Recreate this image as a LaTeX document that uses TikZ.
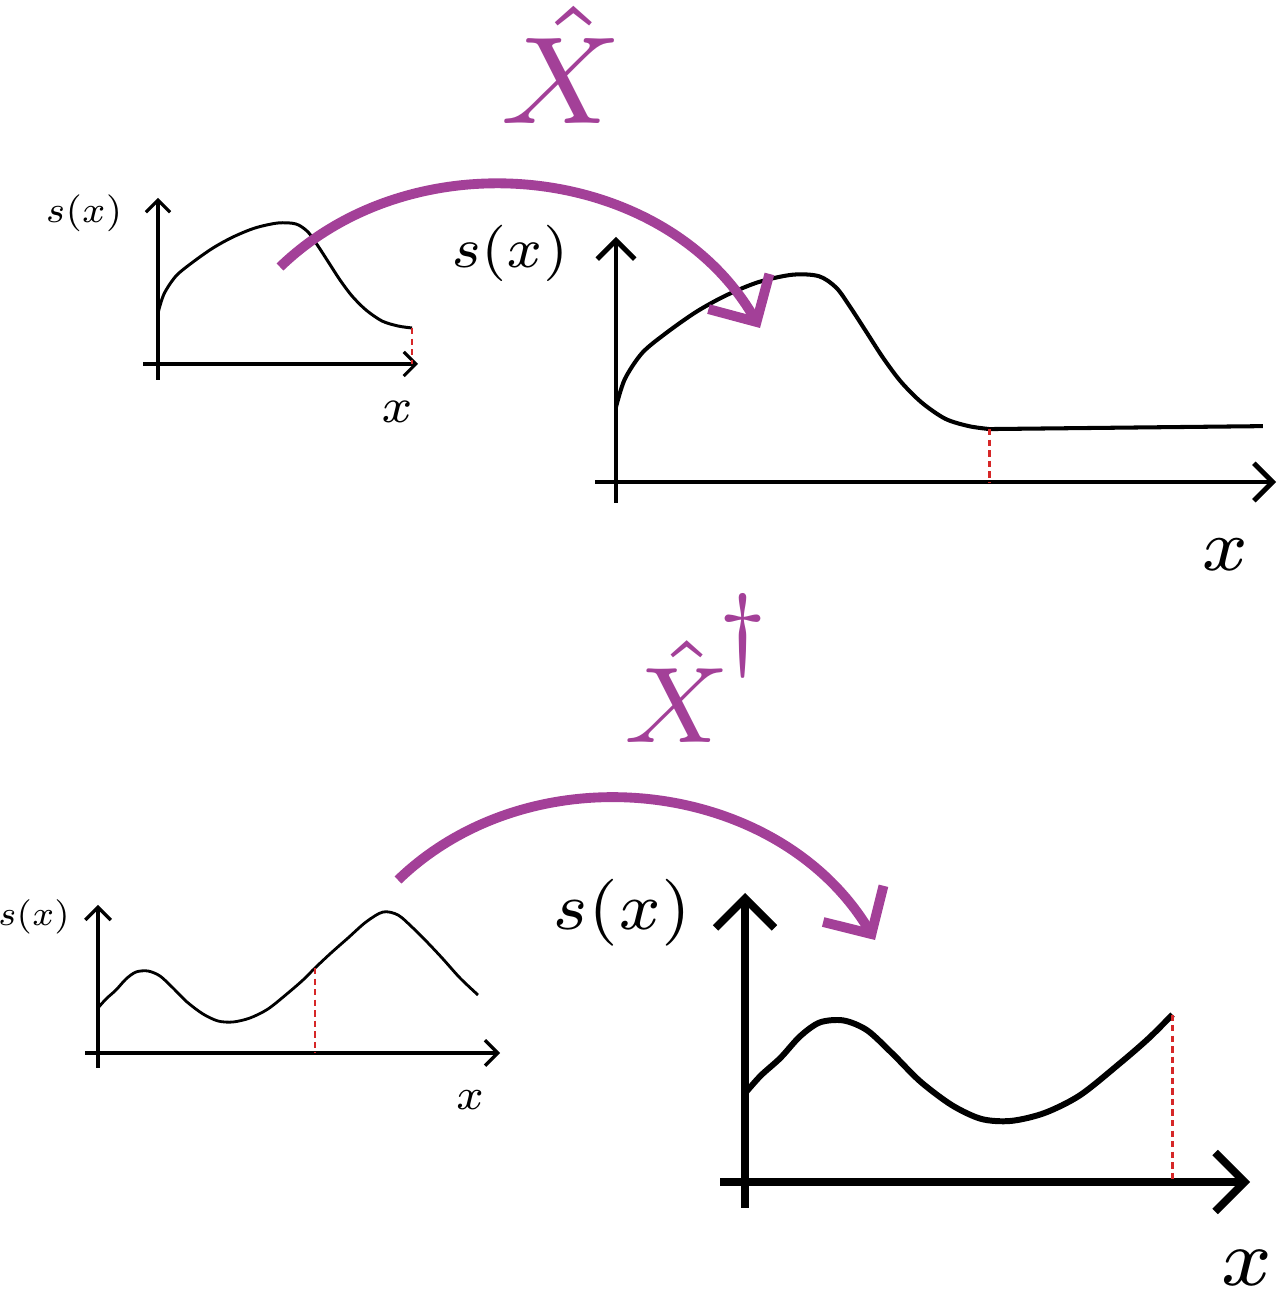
\RequirePackage{fix-cm}
\documentclass[tikz,border=0pt]{standalone}
\usepackage{amsmath}
\usepackage{xcolor}
\usetikzlibrary{arrows.meta}

\definecolor{mapcol}{RGB}{163,64,152}
\definecolor{cutcol}{RGB}{214,39,40}

\begin{document}
\begin{tikzpicture}[
  x=0.01cm, y=0.01cm,
  axis/.style={line width=#1, -{Straight Barb[length=0pt 3.8, width=0pt 7.6]}},
  curve/.style={line width=#1, line join=round},
  cut/.style={cutcol, line width=#1, dash pattern=on 1.8pt off 1.2pt},
  mapto/.style={mapcol, line width=2.8pt, -{Straight Barb[length=10pt, width=20pt]}},
  lbl/.style={inner sep=0pt, font=\fontsize{7}{8}\selectfont, scale=#1, transform shape}
]
  \useasboundingbox (0,0) rectangle (1279,1299);

  % top row: small signal
  \begin{scope}[shift={(158,935)}]
    \draw[axis=0.9pt] (-15,0) -- (260,0);
    \draw[axis=0.9pt] (0,-16) -- (0,166);
    \draw[curve=0.85pt] plot[smooth] coordinates {(0,51) (6,70) (18,88) (35,102) (55,116) (75,127) (97,136) (120,141) (138,140) (150,132) (160,118) (171,101) (182,84) (194,68) (208,54) (224,43) (240,38) (254,36)};
    \draw[cut=0.6pt] (254,36) -- (254,0);
  \end{scope}
  \node[lbl=1.5] (syA) at (84,1086) {$s(x)$};
  \node[lbl=2.0] (sxA) at (397,887) {$x$};

  % top row: stretched signal
  \begin{scope}[shift={(616,817)}]
    \draw[axis=1.4pt] (-21,0) -- (660,0);
    \draw[axis=1.4pt] (0,-21) -- (0,245);
    \begin{scope}[scale=1.47]
      \draw[curve=1.15pt] plot[smooth] coordinates {(0,51) (6,70) (18,88) (35,102) (55,116) (75,127) (97,136) (120,141) (138,140) (150,132) (160,118) (171,101) (182,84) (194,68) (208,54) (224,43) (240,38) (254,36)} -- (440,38);
      \draw[cut=0.7pt] (254,36) -- (254,0);
    \end{scope}
  \end{scope}
  \node[lbl=2.29] (syB) at (510,1046) {$s(x)$};
  \node[lbl=2.98] (sxB) at (1225,744) {$x$};

  % forward map
  \node[lbl=5.05, text=mapcol, anchor=base] (fwd) at (562,1175) {$\hat{X}$};
  \coordinate (fwdA) at (280,1032);
  \coordinate (fwdB) at (760,971);
  \draw[mapto] (fwdA) to[out=44, in=120] (fwdB);

  % bottom row: small signal
  \begin{scope}[shift={(98,246)}]
    \draw[axis=0.95pt] (-13,0) -- (402,0);
    \draw[axis=0.95pt] (0,-15) -- (0,148);
    \draw[curve=0.8pt] plot[smooth] coordinates {(0,45) (8,54) (18,63) (28,74) (38,81) (50,82) (62,77) (75,65) (89,51) (105,39) (120,32) (135,31) (152,35) (170,44) (190,60) (205,73) (217,85) (233,100) (250,115) (268,131) (285,141) (300,138) (315,125) (330,110) (345,94) (362,75) (380,58)};
    \draw[cut=0.6pt] (217,85) -- (217,0);
  \end{scope}
  \node[lbl=1.4] (syC) at (34,382) {$s(x)$};
  \node[lbl=1.78] (sxC) at (470,199) {$x$};

  % bottom row: cut signal
  \begin{scope}[shift={(745,117)}]
    \draw[axis=2.2pt] (-25,0) -- (505,0);
    \draw[axis=2.2pt] (0,-26) -- (0,289);
    \begin{scope}[scale=1.97]
      \draw[curve=1.7pt] plot[smooth] coordinates {(0,45) (8,54) (18,63) (28,74) (38,81) (50,82) (62,77) (75,65) (89,51) (105,39) (120,32) (135,31) (152,35) (170,44) (190,60) (205,73) (217,85)};
      \draw[cut=0.8pt] (217,85) -- (217,0);
    \end{scope}
  \end{scope}
  \node[lbl=2.72] (syD) at (622,386) {$s(x)$};
  \node[lbl=3.31] (sxD) at (1247,31) {$x$};

  % inverse map
  \node[lbl=4.38, text=mapcol, anchor=base west] (inv) at (619,556) {$\hat{X}^{\hspace{-1pt}\raisebox{2.5pt}{\fontsize{6}{7}\selectfont$\dagger$}}$};
  \coordinate (invA) at (398,419);
  \coordinate (invB) at (875,359);
  \draw[mapto] (invA) to[out=44, in=121] (invB);
\end{tikzpicture}
\end{document}
